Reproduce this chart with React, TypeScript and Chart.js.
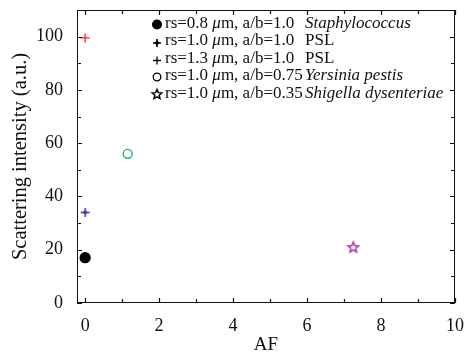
import React, { useEffect, useRef } from "react";
import { Chart, registerables } from "chart.js";

Chart.register(...registerables);

const radii = ["0.8", "1.0", "1.3", "1.0", "1.0"];
const aspectRatios = ["1.0", "1.0", "1.0", "0.75", "0.35"];
const species = ["Staphylococcus", "PSL", "PSL", "Yersinia pestis", "Shigella dysenteriae"];
const speciesItalic = [true, false, false, true, true];
const afValues = [0, 0, 0, 1.15, 7.25];
const intensityValues = [17, 34, 99.5, 56, 21];
const pointColors = ["#000000", "#3b3b9c", "#ff2020", "#1fae5a", "#b0309a"];
const xTickValues = [0, 2, 4, 6, 8, 10];
const yTickValues = [0, 20, 40, 60, 80, 100];
const xMinorValues = [1, 3, 5, 7, 9];
const yMinorValues = [10, 30, 50, 70, 90];

const FONT = "'Liberation Serif', 'Times New Roman', serif";

function starPath(ctx: CanvasRenderingContext2D, cx: number, cy: number, R: number, r: number) {
  ctx.beginPath();
  for (let i = 0; i < 10; i++) {
    const rad = i % 2 === 0 ? R : r;
    const a = -Math.PI / 2 + (i * Math.PI) / 5;
    const px = cx + rad * Math.cos(a);
    const py = cy + rad * Math.sin(a);
    if (i === 0) ctx.moveTo(px, py);
    else ctx.lineTo(px, py);
  }
  ctx.closePath();
}

function makeStarImage(color: string, size: number) {
  const c = document.createElement("canvas");
  c.width = size;
  c.height = size;
  const ctx = c.getContext("2d")!;
  ctx.strokeStyle = color;
  ctx.lineWidth = 1.5;
  starPath(ctx, size / 2, size / 2 + 0.5, size / 2 - 1.5, (size / 2 - 1.5) * 0.45);
  ctx.stroke();
  return c;
}

function makePlusStar(color: string, size: number) {
  const c = document.createElement("canvas");
  c.width = size;
  c.height = size;
  const ctx = c.getContext("2d")!;
  const m = size / 2;
  ctx.strokeStyle = color;
  ctx.fillStyle = color;
  ctx.lineWidth = 1.6;
  ctx.beginPath();
  ctx.moveTo(1, m);
  ctx.lineTo(size - 1, m);
  ctx.moveTo(m, 1);
  ctx.lineTo(m, size - 1);
  ctx.stroke();
  ctx.beginPath();
  ctx.moveTo(m, m - 2.5);
  ctx.lineTo(m + 2.5, m);
  ctx.lineTo(m, m + 2.5);
  ctx.lineTo(m - 2.5, m);
  ctx.closePath();
  ctx.fill();
  return c;
}

const ticksPlugin = {
  id: "innerTicks",
  afterDatasetsDraw(chart: any) {
    const { ctx, chartArea, scales } = chart;
    const xs = scales.x;
    const ys = scales.y;
    ctx.save();
    ctx.strokeStyle = "#111";
    ctx.lineWidth = 1;
    ctx.strokeRect(chartArea.left + 0.5, chartArea.top + 0.5, chartArea.right - chartArea.left - 1, chartArea.bottom - chartArea.top - 1);
    ctx.lineWidth = 1.2;
    const drawX = (v: number, len: number) => {
      const px = Math.round(xs.getPixelForValue(v)) + 0.5;
      ctx.beginPath();
      ctx.moveTo(px, chartArea.bottom);
      ctx.lineTo(px, chartArea.bottom - len);
      ctx.moveTo(px, chartArea.top);
      ctx.lineTo(px, chartArea.top + len);
      ctx.stroke();
    };
    const drawY = (v: number, len: number) => {
      const py = Math.round(ys.getPixelForValue(v)) + 0.5;
      ctx.beginPath();
      ctx.moveTo(chartArea.left, py);
      ctx.lineTo(chartArea.left + len, py);
      ctx.moveTo(chartArea.right, py);
      ctx.lineTo(chartArea.right - len, py);
      ctx.stroke();
    };
    xTickValues.forEach((v) => drawX(v, 5));
    xMinorValues.forEach((v) => drawX(v, 4));
    yTickValues.forEach((v) => drawY(v, 5));
    yMinorValues.forEach((v) => drawY(v, 4));
    ctx.restore();
  },
};

const legendPlugin = {
  id: "customLegend",
  afterDraw(chart: any) {
    const { ctx, chartArea } = chart;
    ctx.save();
    const markerX = chartArea.left + 80;
    const textX = markerX + 8;
    const speciesX = chartArea.left + 228;
    const rowY0 = chartArea.top + 13.5;
    const rowH = 17.5;
    ctx.textBaseline = "middle";
    for (let i = 0; i < species.length; i++) {
      const y = rowY0 + i * rowH;
      ctx.strokeStyle = "#000";
      ctx.fillStyle = "#000";
      if (i === 0) {
        ctx.beginPath();
        ctx.arc(markerX, y + 1, 5, 0, Math.PI * 2);
        ctx.fill();
      } else if (i === 1) {
        ctx.drawImage(makePlusStar("#000", 10), markerX - 5, y - 3);
      } else if (i === 2) {
        ctx.lineWidth = 1.3;
        ctx.beginPath();
        ctx.moveTo(markerX - 4, y + 2);
        ctx.lineTo(markerX + 4, y + 2);
        ctx.moveTo(markerX, y - 2);
        ctx.lineTo(markerX, y + 6);
        ctx.stroke();
      } else if (i === 3) {
        ctx.lineWidth = 1.3;
        ctx.beginPath();
        ctx.arc(markerX, y + 1, 3.8, 0, Math.PI * 2);
        ctx.stroke();
      } else {
        ctx.lineWidth = 1.5;
        starPath(ctx, markerX, y + 1, 5, 2.3);
        ctx.stroke();
      }
      let x = textX;
      const seg = (t: string, italic: boolean) => {
        ctx.font = (italic ? "italic " : "") + "17px " + FONT;
        ctx.fillStyle = "#111";
        ctx.fillText(t, x, y);
        x += ctx.measureText(t).width;
      };
      seg("rs=" + radii[i] + " ", false);
      seg("\u03bc", true);
      seg("m, a/b=" + aspectRatios[i], false);
      ctx.font = (speciesItalic[i] ? "italic " : "") + "17px " + FONT;
      ctx.fillText(species[i], speciesX, y);
    }
    ctx.restore();
  },
};

export default function App() {
  const ref = useRef<HTMLCanvasElement>(null);
  useEffect(() => {
    const starImg = makeStarImage(pointColors[4], 14);
    const plusImg = makePlusStar(pointColors[1], 11);
    const styles: any[] = ["circle", plusImg, "cross", "circle", starImg];
    const radiiPx = [5, 5, 4.5, 4.5, 7];
    const datasets = species.map((s, i) => ({
      label: "rs=" + radii[i] + " \u03bcm, a/b=" + aspectRatios[i] + " " + s,
      data: [{ x: afValues[i], y: intensityValues[i] }],
      pointStyle: styles[i],
      pointRadius: radiiPx[i],
      pointBorderColor: pointColors[i],
      pointBackgroundColor: i === 0 ? pointColors[i] : "rgba(0,0,0,0)",
      pointBorderWidth: 1.3,
      showLine: false,
    }));
    const chart = new Chart(ref.current!, {
      type: "scatter",
      data: { datasets },
      options: {
        animation: false,
        responsive: false,
        layout: { padding: { top: 10, right: 11, left: 0, bottom: 0 } },
        plugins: { legend: { display: false }, tooltip: { enabled: false } },
        scales: {
          x: {
            type: "linear",
            min: -0.22,
            max: 10,
            grid: { display: false },
            border: { display: false },
            afterBuildTicks: (scale: any) => {
              scale.ticks = xTickValues.map((v) => ({ value: v }));
            },
            afterFit: (scale: any) => {
              scale.height = 53;
              scale.paddingLeft = 0;
              scale.paddingRight = 0;
            },
            ticks: { color: "#111", font: { family: FONT, size: 18 }, padding: 4, maxRotation: 0 },
            title: { display: true, text: "AF", color: "#111", font: { family: FONT, size: 19 }, padding: { top: 4, bottom: 0 } },
          },
          y: {
            type: "linear",
            min: 0,
            max: 110,
            grid: { display: false },
            border: { display: false },
            afterBuildTicks: (scale: any) => {
              scale.ticks = yTickValues.map((v) => ({ value: v }));
            },
            afterFit: (scale: any) => {
              scale.width = 77;
              scale.paddingTop = 0;
              scale.paddingBottom = 0;
            },
            ticks: { color: "#111", font: { family: FONT, size: 18 }, padding: 6 },
            title: { display: true, text: "Scattering intensity (a.u.)", color: "#111", font: { family: FONT, size: 20.5 }, padding: { top: 8, bottom: 2 } },
          },
        },
      },
      plugins: [ticksPlugin, legendPlugin],
    });
    return () => chart.destroy();
  }, []);
  return (
    <div style={{ position: "fixed", left: 0, top: 0, width: 466, height: 356, background: "#fff" }}>
      <canvas ref={ref} width={466} height={356} style={{ width: 466, height: 356 }} />
    </div>
  );
}
